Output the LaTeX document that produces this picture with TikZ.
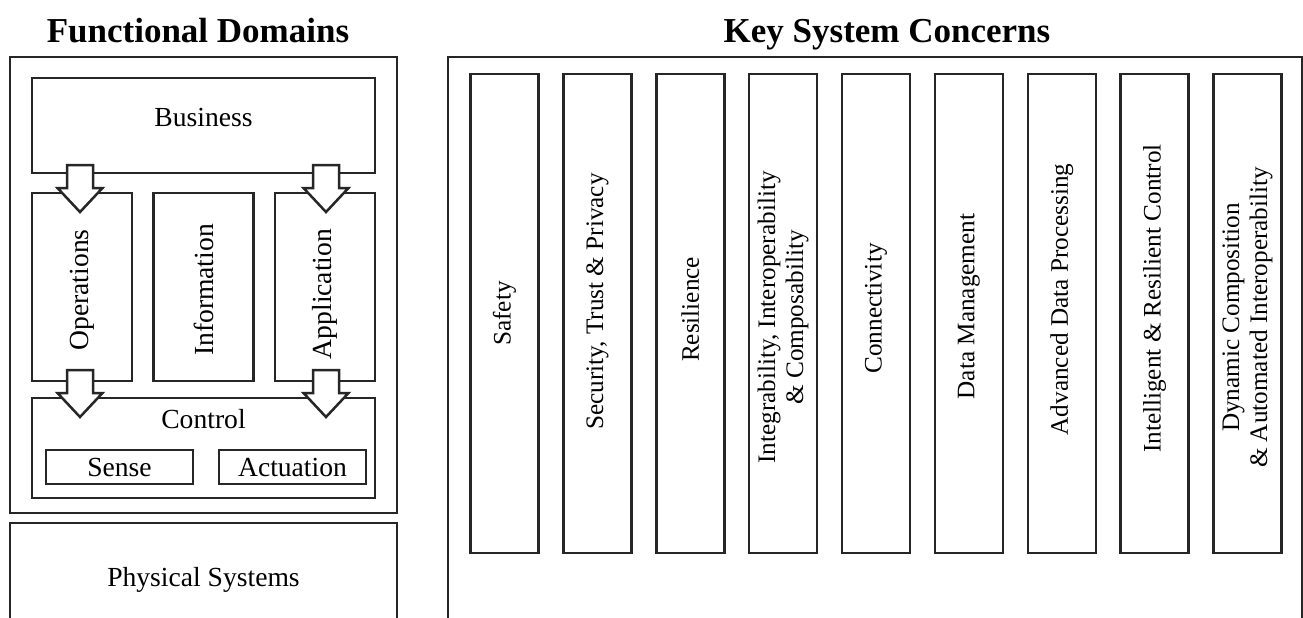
\documentclass[tikz,border=0pt]{standalone}
\usepackage{fontspec}
\setmainfont{Liberation Serif}
\usetikzlibrary{positioning}

\begin{document}
\begin{tikzpicture}[
  x=0.5pt, y=-0.5pt,
  every node/.style={font=\fontsize{13.8}{16}\selectfont},
  panel/.style={
    draw=black!85,
    line width=1.25pt,
    inner sep=0pt,
    fill=white
  },
  title/.style={font=\bfseries\fontsize{17.5}{20}\selectfont, anchor=base},
  upright/.style={panel, rotate=90, minimum width=94pt, minimum height=50pt},
  uptext/.style={rotate=90, inner sep=0pt},
  concern/.style={
    panel,
    rotate=90,
    minimum width=239.5pt,
    minimum height=34pt
  },
  concerntext/.style={
    rotate=90,
    align=center,
    inner sep=0pt,
    font=\fontsize{12.6}{14}\selectfont
  },
  flow/.pic={
    \draw[draw=black!85, line width=1.25pt, fill=white]
      (-13,0) -- (13,0) -- (13,23) -- (22.5,23) -- (0,47)
      -- (-22.5,23) -- (-13,23) -- cycle;
  }
]
\useasboundingbox (0,0) rectangle (1303,617);
\clip (0,0) rectangle (1303,617);

% functional domains
\node[title] (fdtitle) at (198,42) {Functional Domains};
\node[panel, minimum width=193.5pt, minimum height=228pt] (fdframe) at (203.5,285) {};
\node[panel, minimum width=171.5pt, minimum height=47.5pt,
  label={[yshift=4pt]center:Business}] (business) at (203.5,125.5) {};
\node[upright, label={[yshift=-1.5pt, uptext]center:Operations}] (operations) at (82,287) {};
\node[upright, label={[yshift=-1.5pt, uptext]center:Information}] (information) at (203.5,287) {};
\node[upright, label={[yshift=-3.5pt, uptext]center:Application}] (application) at (325,287) {};
\node[panel, minimum width=171.5pt, minimum height=50pt,
  label={[yshift=14.5pt]center:Control}] (control) at (203.5,448) {};
\node[panel, minimum width=73.5pt, minimum height=17pt] (sense) at (119.5,467) {Sense};
\node[panel, minimum width=73.5pt, minimum height=17pt] (actuation) at (292.5,467) {Actuation};
\node[panel, minimum width=193.5pt, minimum height=57pt] (physical) at (203.5,580) {Physical Systems};

\foreach \ax in {80,326} {
  \pic at (\ax,165) {flow};
  \pic at (\ax,370) {flow};
}

% key system concerns
\node[title] (ksctitle) at (887,42) {Key System Concerns};
\node[panel, minimum width=427pt, minimum height=291.5pt] (kscframe) at (875,348.5) {};
\foreach \name/\dy/\txt [count=\i from 0] in {
    safety/0/Safety,
    security/6/{Security, Trust \& Privacy},
    resilience/2/Resilience,
    integrability/-2/{Integrability, Interoperability\\\& Composability},
    connectivity/2.5/Connectivity,
    datamgmt/3.5/Data Management,
    processing/7/Advanced Data Processing,
    resilientctl/7.5/Intelligent \& Resilient Control,
    dynamic/-2/{Dynamic Composition\\\& Automated Interoperability}}
  \node[concern, label={[yshift=\dy pt, concerntext]center:\txt}]
    (\name) at ({504.5+92.875*\i},313.5) {};
\end{tikzpicture}
\end{document}
